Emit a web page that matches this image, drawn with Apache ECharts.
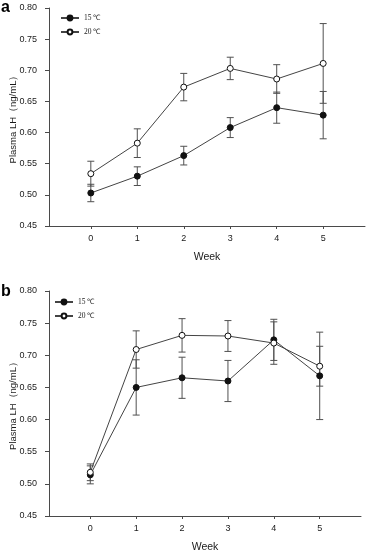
<!DOCTYPE html>
<html>
<head>
<meta charset="utf-8">
<script src="https://cdn.jsdelivr.net/npm/echarts@6/dist/echarts.min.js"></script>
<style>
html,body{margin:0;padding:0;background:#fff;}
#c{width:369px;height:556px;}
</style>
</head>
<body>
<div id="c"></div>
<script>
// ---- data ----
const weeks = [0, 1, 2, 3, 4, 5];
const xTickLabels = ['0', '1', '2', '3', '4', '5'];
const seriesNames = ['15 \u2103', '20 \u2103'];

// panel a
const a15 = [0.503, 0.530, 0.563, 0.608, 0.640, 0.628];
const a15err = [0.014, 0.015, 0.015, 0.016, 0.025, 0.038];
const a20 = [0.534, 0.583, 0.673, 0.703, 0.686, 0.711];
const a20err = [0.020, 0.023, 0.022, 0.018, 0.023, 0.064];

// panel b
const b15 = [0.514, 0.650, 0.665, 0.660, 0.724, 0.668];
const b15err = [0.014, 0.043, 0.032, 0.032, 0.032, 0.068];
const b20 = [0.518, 0.709, 0.731, 0.730, 0.719, 0.683];
const b20err = [0.013, 0.029, 0.026, 0.024, 0.033, 0.031];

// ---- chart ----
const axisColor = '#4a4a4a';
const textColor = '#1a1a1a';
const sans = 'Liberation Sans, Arial, sans-serif';

function pts(vals) { return weeks.map((w, i) => [w, vals[i]]); }
function errData(vals, errs) { return weeks.map((w, i) => [w, vals[i] - errs[i], vals[i] + errs[i]]); }

function errRender(params, api) {
  const x = api.value(0), lo = api.value(1), hi = api.value(2);
  const p1 = api.coord([x, hi]);
  const p2 = api.coord([x, lo]);
  const w = 3.5;
  const st = { stroke: '#505050', lineWidth: 1 };
  return {
    type: 'group',
    children: [
      { type: 'line', shape: { x1: p1[0], y1: p1[1], x2: p2[0], y2: p2[1] }, style: st },
      { type: 'line', shape: { x1: p1[0] - w, y1: p1[1], x2: p1[0] + w, y2: p1[1] }, style: st },
      { type: 'line', shape: { x1: p2[0] - w, y1: p2[1], x2: p2[0] + w, y2: p2[1] }, style: st }
    ]
  };
}

function xAxisCfg(gi) {
  return {
    type: 'value', gridIndex: gi, min: -0.9, max: 5.9,
    axisLine: { show: true, onZero: false, lineStyle: { color: axisColor, width: 1 } },
    axisTick: { show: true, customValues: weeks, length: 3, inside: false, lineStyle: { color: axisColor } },
    axisLabel: { customValues: weeks, formatter: v => xTickLabels[weeks.indexOf(v)], margin: 8, fontSize: 9, color: textColor, fontFamily: sans },
    splitLine: { show: false },
    name: 'Week', nameLocation: 'middle', nameGap: 26, nameMoveOverlap: false,
    nameTextStyle: { fontSize: 10.5, color: textColor, fontFamily: sans }
  };
}
function yAxisCfg(gi) {
  return {
    type: 'value', gridIndex: gi, min: 0.45, max: 0.80, interval: 0.05,
    axisLine: { show: true, onZero: false, lineStyle: { color: axisColor, width: 1 } },
    axisTick: { show: true, length: 4, inside: false, lineStyle: { color: axisColor, width: 1 } },
    axisLabel: { formatter: v => v.toFixed(2), margin: 12, fontSize: 9, color: textColor, fontFamily: sans },
    splitLine: { show: false },
    name: 'Plasma LH\uFF08ng/mL\uFF09', nameLocation: 'middle', nameGap: 31, nameRotate: 90, nameMoveOverlap: false,
    nameTextStyle: { fontSize: 9.5, color: textColor, fontFamily: sans }
  };
}
function lineSeries(name, gi, vals, filled) {
  return {
    type: 'line', name: name, xAxisIndex: gi, yAxisIndex: gi,
    data: pts(vals), symbol: 'circle', symbolSize: 6, z: 5,
    lineStyle: { color: '#444', width: 1 },
    itemStyle: { color: filled ? '#111' : '#fff', borderColor: '#111', borderWidth: 1 },
    emphasis: { disabled: true }, animation: false
  };
}
function errSeries(name, gi, vals, errs) {
  return {
    type: 'custom', name: name + ' error', xAxisIndex: gi, yAxisIndex: gi,
    data: errData(vals, errs), renderItem: errRender, z: 3,
    encode: { x: 0, y: [1, 2] }, animation: false, silent: true
  };
}
function legendCfg(left, top) {
  return {
    data: seriesNames, orient: 'vertical', left: left, top: top,
    itemWidth: 18, itemHeight: 6, itemGap: 6,
    textStyle: { fontSize: 7.5, fontFamily: 'Liberation Serif, Times New Roman, serif', color: textColor },
    selectedMode: false, padding: 0
  };
}

const chart = echarts.init(document.getElementById('c'), null, { renderer: 'canvas' });
chart.setOption({
  animation: false,
  backgroundColor: '#fff',
  grid: [
    { left: 49, top: 8, width: 316, height: 218, containLabel: false, outerBoundsMode: 'none' },
    { left: 49, top: 291, width: 312, height: 225, containLabel: false, outerBoundsMode: 'none' }
  ],
  xAxis: [xAxisCfg(0), xAxisCfg(1)],
  yAxis: [yAxisCfg(0), yAxisCfg(1)],
  legend: [legendCfg(60, 14), legendCfg(54, 298)],
  graphic: [
    { type: 'text', left: 1, top: 0, style: { text: 'a', fontSize: 16, fontWeight: 'bold', fontFamily: sans, fill: '#000' } },
    { type: 'text', left: 1, top: 284, style: { text: 'b', fontSize: 16, fontWeight: 'bold', fontFamily: sans, fill: '#000' } }
  ],
  series: [
    lineSeries(seriesNames[0], 0, a15, true),
    lineSeries(seriesNames[1], 0, a20, false),
    errSeries(seriesNames[0], 0, a15, a15err),
    errSeries(seriesNames[1], 0, a20, a20err),
    lineSeries(seriesNames[0], 1, b15, true),
    lineSeries(seriesNames[1], 1, b20, false),
    errSeries(seriesNames[0], 1, b15, b15err),
    errSeries(seriesNames[1], 1, b20, b20err)
  ]
});
</script>
</body>
</html>
